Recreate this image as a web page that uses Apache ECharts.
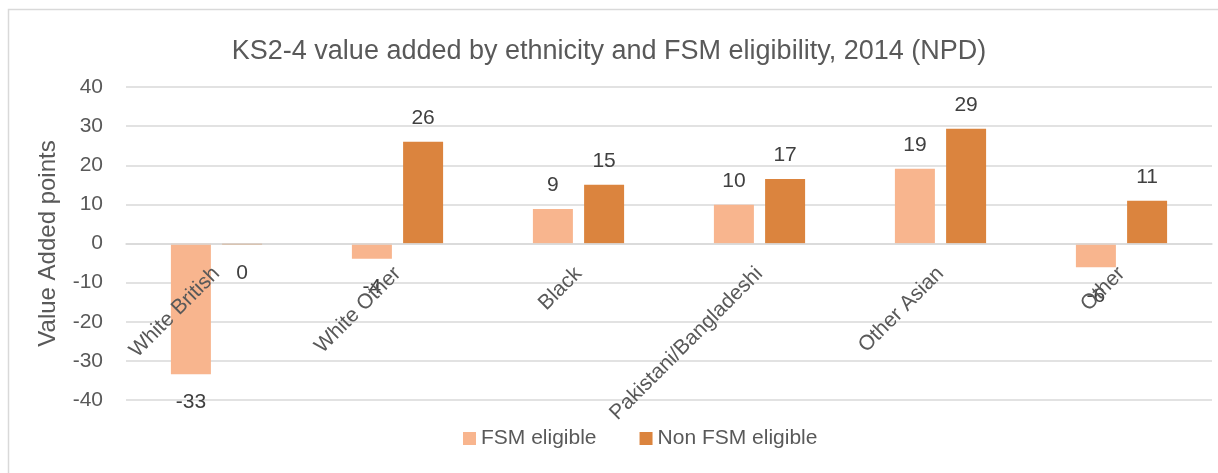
<!DOCTYPE html>
<html>
<head>
<meta charset="utf-8">
<script src="https://cdn.jsdelivr.net/npm/echarts@6/dist/echarts.min.js"></script>
<style>
  html, body { margin: 0; padding: 0; background: #ffffff; }
  #main { width: 1218px; height: 473px; }
</style>
</head>
<body>
<div id="main"></div>
<script>
// chart data
var categories = ['White British', 'White Other', 'Black', 'Pakistani/Bangladeshi', 'Other Asian', 'Other'];
var fsmEligible = [-33.4, -3.9, 8.8, 9.9, 19.1, -6.1];
var nonFsmEligible = [-0.4, 26.0, 15.0, 16.5, 29.3, 10.9];
var yTicks = [-40, -30, -20, -10, 0, 10, 20, 30, 40];

// labels outside the bar end, below for negative values
function toItems(values) {
  return values.map(function (v) {
    return {
      value: v,
      label: v < 0 ? { position: 'bottom', distance: 18 } : { position: 'top', distance: 13 }
    };
  });
}

var chart = echarts.init(document.getElementById('main'));

var option = {
  backgroundColor: '#ffffff',
  color: ['#F8B58E', '#DB843E'],
  textStyle: { fontFamily: 'Liberation Sans' },
  title: {
    text: 'KS2-4 value added by ethnicity and FSM eligibility, 2014 (NPD)',
    left: 'center',
    top: 33,
    textStyle: { fontSize: 27, fontWeight: 'normal', color: '#595959', fontFamily: 'Liberation Sans' }
  },
  graphic: [{
    type: 'rect',
    shape: { x: 8.5, y: 9.5, width: 1220, height: 480 },
    style: { fill: 'none', stroke: '#d9d9d9', lineWidth: 1.5 },
    silent: true
  }],
  legend: {
    data: ['FSM eligible', 'Non FSM eligible'],
    left: 458,
    top: 423,
    itemWidth: 13,
    itemHeight: 13,
    itemGap: 43,
    icon: 'rect',
    textStyle: { fontSize: 21, color: '#595959' }
  },
  grid: { left: 126, right: 6, top: 87, bottom: 73, outerBoundsMode: 'none' },
  xAxis: {
    type: 'category',
    data: categories,
    offset: -156.5,
    axisLine: { onZero: false, lineStyle: { color: '#d9d9d9', width: 1.5 } },
    axisTick: { show: false },
    axisLabel: { rotate: 45, margin: 27, fontSize: 21, color: '#595959', interval: 0 },
    z: 3
  },
  yAxis: {
    type: 'value',
    min: yTicks[0],
    max: yTicks[yTicks.length - 1],
    interval: 10,
    name: 'Value Added points',
    nameLocation: 'middle',
    nameGap: 66,
    nameTextStyle: { fontSize: 24, color: '#595959' },
    axisLine: { show: false },
    axisTick: { show: false },
    axisLabel: { fontSize: 21, color: '#595959', margin: 23 },
    splitLine: { lineStyle: { color: '#d9d9d9', width: 1.5 } }
  },
  series: [
    {
      name: 'FSM eligible',
      type: 'bar',
      data: toItems(fsmEligible),
      barWidth: 40,
      barGap: '28%',
      label: {
        show: true,
        fontSize: 21,
        color: '#404040',
        formatter: function (p) { return String(Math.round(p.value)); }
      }
    },
    {
      name: 'Non FSM eligible',
      type: 'bar',
      data: toItems(nonFsmEligible),
      barWidth: 40,
      barGap: '28%',
      label: {
        show: true,
        fontSize: 21,
        color: '#404040',
        formatter: function (p) { return String(Math.round(p.value)); }
      }
    }
  ]
};

chart.setOption(option);
</script>
</body>
</html>
